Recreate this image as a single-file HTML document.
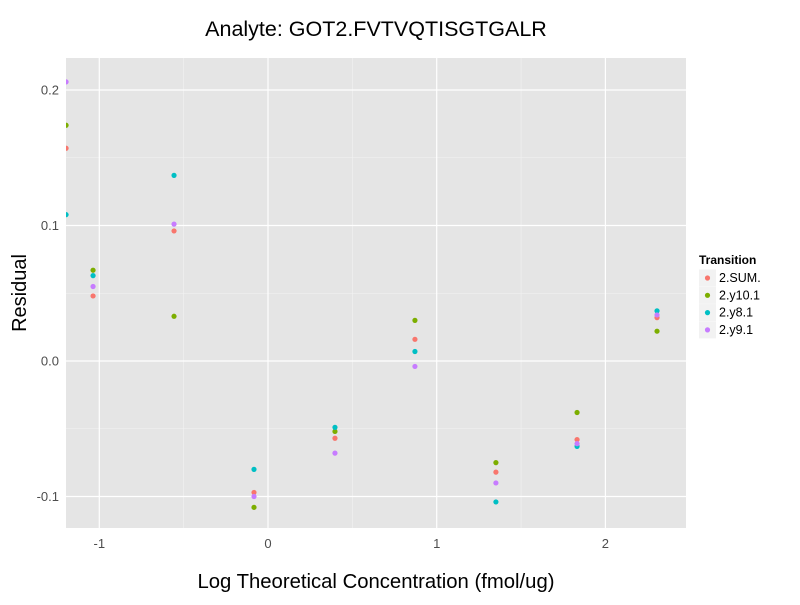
<!DOCTYPE html>
<html><head><meta charset="utf-8"><style>body{margin:0;background:#fff}svg text{font-family:"Liberation Sans",sans-serif}</style></head>
<body>
<svg id="c" width="800" height="600"></svg>
<script>
const xVals=[-1.197,-1.037,-0.557,-0.083,0.397,0.871,1.351,1.832,2.306];
const sSUM=[0.157,0.048,0.096,-0.097,-0.057,0.016,-0.082,-0.058,0.032];
const sY10=[0.174,0.067,0.033,-0.108,-0.052,0.030,-0.075,-0.038,0.022];
const sY8=[0.108,0.063,0.137,-0.080,-0.049,0.007,-0.104,-0.063,0.037];
const sY9=[0.206,0.055,0.101,-0.100,-0.068,-0.004,-0.090,-0.061,0.034];
const seriesNames=["2.SUM.","2.y10.1","2.y8.1","2.y9.1"];
const xTicks=[-1,0,1,2];
const yTicks=[-0.1,0.0,0.1,0.2];
const yTickLabels=["-0.1","0.0","0.1","0.2"];
const colors=["#F8766D","#7CAE00","#00BFC4","#C77CFF"];
const series=[sSUM,sY10,sY8,sY9];
const L=66,R=686,T=58,B=528;
const X=v=>268+v*168.7, Y=v=>361-v*1355;
const svg=document.getElementById('c');const NS='http://www.w3.org/2000/svg';
function el(t,a,p){const e=document.createElementNS(NS,t);for(const k in a)e.setAttribute(k,a[k]);(p||svg).appendChild(e);return e;}
const bg=el('rect',{x:L,y:T,width:R-L,height:B-T,fill:'#E5E5E5'});


const defs=el('defs',{});const cp=el('clipPath',{id:'cp'},defs);el('rect',{x:L,y:T,width:R-L,height:B-T},cp);
const g=el('g',{'clip-path':'url(#cp)'});
for(const v of [-1.5,-0.5,0.5,1.5,2.5]){const l=el('line',{x1:X(v),x2:X(v),y1:T,y2:B,stroke:'#F2F2F2','stroke-width':0.6},g);}
for(const v of [-0.15,-0.05,0.05,0.15]){const l=el('line',{x1:L,x2:R,y1:Y(v),y2:Y(v),stroke:'#F2F2F2','stroke-width':0.6},g);}
xTicks.forEach(v=>{const l=el('line',{x1:X(v),x2:X(v),y1:T,y2:B,stroke:'#fff','stroke-width':1.2},g);
const t=el('text',{x:X(v),y:B+20,'text-anchor':'middle','font-size':13,fill:'#4d4d4d'});t.textContent=v;});
yTicks.forEach((v,i)=>{const l=el('line',{x1:L,x2:R,y1:Y(v),y2:Y(v),stroke:'#fff','stroke-width':1.2},g);
const t=el('text',{x:L-7,y:Y(v)+4.5,'text-anchor':'end','font-size':13,fill:'#4d4d4d'});t.textContent=yTickLabels[i];});
series.forEach((s,si)=>s.forEach((v,i)=>{const c=el('circle',{cx:X(xVals[i]),cy:Y(v),r:2.6,fill:colors[si]},g);}));
let t=el('text',{x:376,y:36,'text-anchor':'middle','font-size':21.5});t.textContent='Analyte: GOT2.FVTVQTISGTGALR';
t=el('text',{x:376,y:588,'text-anchor':'middle','font-size':20.3});t.textContent='Log Theoretical Concentration (fmol/ug)';
t=el('text',{x:26,y:293,'text-anchor':'middle','font-size':20,transform:'rotate(-90 26 293)'});t.textContent='Residual';
t=el('text',{x:699,y:264,'font-size':12,'font-weight':'bold'});t.textContent='Transition';
seriesNames.forEach((n,i)=>{const y=278+i*17.3;const r=el('rect',{x:699,y:y-8.5,width:17,height:17,fill:'#F2F2F2'});
const c=el('circle',{cx:707.5,cy:y,r:2.6,fill:colors[i]});
const tt=el('text',{x:719,y:y+4,'font-size':12.5});tt.textContent=n;});
</script>
</body></html>
